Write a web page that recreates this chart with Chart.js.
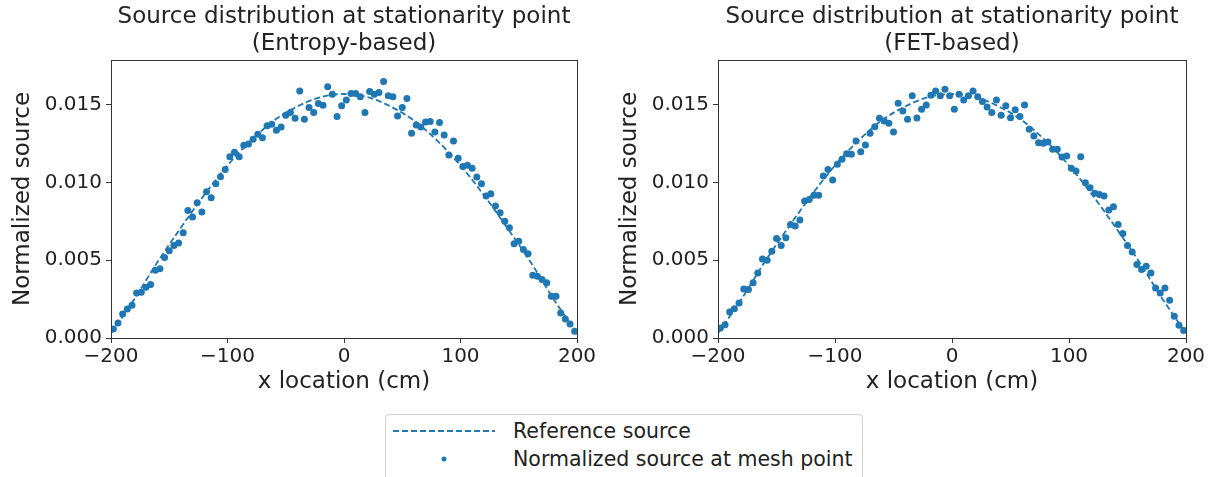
<!DOCTYPE html>
<html>
<head>
<meta charset="utf-8">
<script src="https://cdn.jsdelivr.net/npm/chart.js@4.4.1/dist/chart.umd.min.js"></script>
<style>
  body { margin: 0; background: #fff; width: 1215px; height: 477px; overflow: hidden; position: relative; font-family: 'DejaVu Sans', sans-serif; }
  canvas { position: absolute; top: 0; }
  #c1 { left: 0; }
  #c2 { left: 607px; }
  #legend { position: absolute; left: 385px; top: 414px; width: 478px; height: 80px; border: 1px solid #d0d0d0; border-radius: 4px; box-sizing: border-box; }
  .row { position: absolute; left: 0; height: 26px; display: flex; align-items: center; font-size: 20.5px; color: #222; white-space: nowrap; }
  .row svg { margin-left: 6px; margin-right: 17px; }
</style>
</head>
<body>
<canvas id="c1" width="600" height="400"></canvas>
<canvas id="c2" width="608" height="400"></canvas>
<div id="legend">
  <div class="row" style="top:3px"><svg width="104" height="10"><line x1="1" y1="5" x2="103" y2="5" stroke="#1f77b4" stroke-width="2" stroke-dasharray="6,3"/></svg>Reference source</div>
  <div class="row" style="top:31px"><svg width="104" height="10"><circle cx="52" cy="5" r="2.5" fill="#1f77b4"/></svg>Normalized source at mesh point</div>
</div>
<script>
const meshX = [-198,-194,-190,-186,-182,-178,-174,-170,-166,-162,-158,-154,-150,-146,-142,-138,-134,-130,-126,-122,
  -118,-114,-110,-106,-102,-98,-94,-90,-86,-82,-78,-74,-70,-66,-62,-58,-54,-50,-46,-42,
  -38,-34,-30,-26,-22,-18,-14,-10,-6,-2,2,6,10,14,18,22,26,30,34,38,
  42,46,50,54,58,62,66,70,74,78,82,86,90,94,98,102,106,110,114,118,
  122,126,130,134,138,142,146,150,154,158,162,166,170,174,178,182,186,190,194,198];

const entropyY = [0.00058,0.00097,0.00155,0.00187,0.00211,0.00290,0.00294,0.00327,0.00344,0.00436,
  0.00445,0.00518,0.00561,0.00595,0.00612,0.00677,0.00821,0.00778,0.00870,0.00810,
  0.00941,0.00903,0.00993,0.01038,0.01085,0.01167,0.01195,0.01167,0.01240,0.01249,
  0.01279,0.01311,0.01289,0.01365,
  0.01375,0.01337,0.01358,0.01433,0.01451,0.01414,0.01590,0.01408,0.01483,0.01451,
  0.01509,0.01498,0.01616,0.01569,0.01425,0.01494,0.01532,0.01573,0.01573,0.01552,
  0.01451,0.01586,0.01569,0.01580,0.01651,0.01558,0.01552,0.01429,0.01483,0.01541,
  0.01317,0.01371,0.01358,0.01390,
  0.01393,0.01326,0.01386,0.01307,0.01178,0.01268,0.01156,0.01103,0.01111,0.01092,
  0.01036,0.00993,0.00913,0.00928,0.00849,0.00806,0.00752,0.00709,0.00606,0.00623,
  0.00569,0.00542,0.00404,0.00398,0.00376,0.00355,0.00269,0.00269,0.00161,0.00122,
  0.00090,0.00043];

const fetY = [0.00064,0.00086,0.00168,0.00189,0.00226,0.00316,0.00312,0.00355,0.00419,0.00509,
  0.00501,0.00559,0.00640,0.00595,0.00645,0.00731,0.00720,0.00759,0.00881,0.00892,
  0.00918,0.00918,0.01042,0.01085,0.01017,0.01118,0.01150,0.01186,0.01182,0.01268,
  0.01199,0.01242,0.01317,0.01360,
  0.01414,0.01397,0.01382,0.01326,0.01511,0.01461,0.01408,0.01558,0.01416,0.01472,
  0.01500,0.01562,0.01590,0.01558,0.01601,0.01558,0.01472,0.01569,0.01532,0.01558,
  0.01590,0.01552,0.01522,0.01487,0.01451,0.01532,0.01433,0.01494,0.01418,0.01468,
  0.01425,0.01500,0.01343,0.01300,
  0.01257,0.01253,0.01262,0.01214,0.01214,0.01165,0.01171,0.01092,0.01075,0.01167,
  0.00999,0.00967,0.00931,0.00924,0.00913,0.00823,0.00845,0.00731,0.00673,0.00595,
  0.00554,0.00473,0.00441,0.00462,0.00419,0.00322,0.00290,0.00322,0.00243,0.00140,
  0.00082,0.00049];

// reference curve
const refX = [-200,-180,-160,-140,-120,-100,-80,-60,-40,-20,0,20,40,60,80,100,120,140,160,180,200];
const refY = [0.0003,0.0025,0.0049,0.0071,0.0092,0.0111,0.0127,0.0140,0.0149,0.0155,0.0157,
  0.0155,0.0149,0.0140,0.0127,0.0111,0.0092,0.0071,0.0049,0.0025,0.0003];

const xTicks = [-200, -100, 0, 100, 200];
const yTicks = [0, 0.005, 0.010, 0.015];

const blue = '#1f77b4';
Chart.defaults.font.family = "'DejaVu Sans', sans-serif";
Chart.defaults.color = '#222';

const frame = {
  id: 'frame',
  afterDraw(chart) {
    const a = chart.chartArea, c = chart.ctx;
    c.save();
    c.strokeStyle = '#333';
    c.lineWidth = 1;
    c.strokeRect(Math.round(a.left) + 0.5, Math.round(a.top) + 0.5,
      Math.round(a.right - a.left), Math.round(a.bottom - a.top));
    c.restore();
  }
};

function makePanel(id, subtitle, ys, padRight) {
  new Chart(document.getElementById(id), {
    type: 'scatter',
    data: {
      datasets: [{
        label: 'Normalized source at mesh point',
        data: meshX.map((x, i) => ({x: x, y: ys[i]})),
        backgroundColor: blue,
        borderWidth: 0,
        pointRadius: 3.5
      }, {
        type: 'line',
        label: 'Reference source',
        data: refX.map((x, i) => ({x: x, y: refY[i]})),
        borderColor: blue,
        borderWidth: 1.8,
        borderDash: [6, 3],
        pointRadius: 0,
        fill: false,
        cubicInterpolationMode: 'monotone'
      }]
    },
    options: {
      responsive: false,
      animation: false,
      devicePixelRatio: 1,
      layout: { padding: { right: padRight, top: 0, left: 0, bottom: 0 } },
      plugins: {
        legend: { display: false },
        tooltip: { enabled: false },
        title: {
          display: true,
          fullSize: false,
          text: ['Source distribution at stationarity point', subtitle],
          font: { size: 23, weight: 'normal', lineHeight: 1.17 },
          color: '#222',
          padding: { top: 4, bottom: 2 }
        }
      },
      scales: {
        x: {
          type: 'linear',
          min: -200, max: 200,
          afterBuildTicks: s => { s.ticks = xTicks.map(v => ({value: v})); },
          afterFit: s => { s.height = 62; },
          border: { display: false },
          grid: { drawOnChartArea: false, drawTicks: true, tickLength: 5, color: '#333' },
          ticks: { font: { size: 20 }, padding: 2, maxRotation: 0,
                   callback: v => String(v).replace('-', '\u2212') },
          title: { display: true, text: 'x location (cm)', font: { size: 23 }, padding: { top: 0, bottom: 4 } }
        },
        y: {
          min: 0, max: 0.0179,
          afterBuildTicks: s => { s.ticks = yTicks.map(v => ({value: v})); },
          afterFit: s => { s.width = 111; },
          border: { display: false },
          grid: { drawOnChartArea: false, drawTicks: true, tickLength: 5, color: '#333' },
          ticks: { font: { size: 20 }, padding: 4, callback: v => v.toFixed(3) },
          title: { display: true, text: 'Normalized source', font: { size: 23 }, padding: { top: 9, bottom: 0 } }
        }
      }
    },
    plugins: [frame]
  });
}

makePanel('c1', '(Entropy-based)', entropyY, 23);
makePanel('c2', '(FET-based)', fetY, 29);
</script>
</body>
</html>
